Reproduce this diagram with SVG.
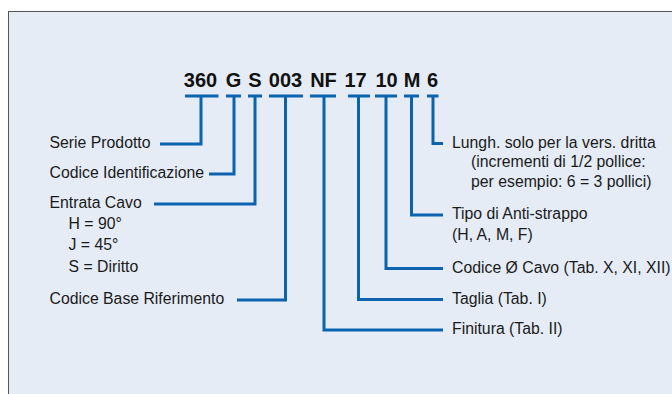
<svg xmlns="http://www.w3.org/2000/svg" width="672" height="394" viewBox="0 0 672 394">
<style>
.lbl{font-family:"Liberation Sans",Arial,Helvetica,sans-serif;font-size:15.8px;fill:#1a1a1a}
.code{font-family:"Liberation Sans",Arial,Helvetica,sans-serif;font-size:20px;font-weight:bold;fill:#111;text-anchor:middle}
.ln{fill:none;stroke:#0B62AF;stroke-width:3}
</style>
<rect x="0" y="0" width="672" height="394" fill="#ffffff"/>
<rect x="8.5" y="11.5" width="680" height="400" fill="#E5ECF6" stroke="#555" stroke-width="1"/>
<g id="code">
<text class="code" x="200.5" y="87">360</text>
<text class="code" x="233.5" y="87">G</text>
<text class="code" x="255" y="87">S</text>
<text class="code" x="285.5" y="87">003</text>
<text class="code" x="323.5" y="87">NF</text>
<text class="code" x="355.5" y="87">17</text>
<text class="code" x="386.5" y="87">10</text>
<text class="code" x="412" y="87">M</text>
<text class="code" x="432.5" y="87">6</text>
</g>
<g id="connectors">
<path class="ln" d="M185,96 H218.5 M201,96 V144 H160"/>
<path class="ln" d="M226,96 H241 M234,96 V174 H209"/>
<path class="ln" d="M248,96 H262 M255,96 V204 H154"/>
<path class="ln" d="M269,96 H303 M285.5,96 V300 H237"/>
<path class="ln" d="M310,96 H336 M324,96 V330 H443"/>
<path class="ln" d="M348,96 H370 M358.5,96 V299.5 H443"/>
<path class="ln" d="M375,96 H397 M386,96 V268.5 H443"/>
<path class="ln" d="M404,96 H419 M411.5,96 V215 H443"/>
<path class="ln" d="M427,96 H438.5 M433,96 V143.5 H443"/>
</g>
<g id="serie"><text class="lbl" x="49.5" y="147.5">Serie Prodotto</text></g>
<g id="identificazione"><text class="lbl" x="49.5" y="177.5">Codice Identificazione</text></g>
<g id="entrata">
<text class="lbl" x="49.5" y="207.5">Entrata Cavo</text>
<text class="lbl" x="68.5" y="228.5">H = 90°</text>
<text class="lbl" x="68.5" y="250">J = 45°</text>
<text class="lbl" x="68.5" y="271.5">S = Diritto</text>
</g>
<g id="base"><text class="lbl" x="49.5" y="304">Codice Base Riferimento</text></g>
<g id="lunghezza">
<text class="lbl" x="452" y="147.5">Lungh. solo per la vers. dritta</text>
<text class="lbl" x="471" y="167">(incrementi di 1/2 pollice:</text>
<text class="lbl" x="471" y="187">per esempio: 6 = 3 pollici)</text>
</g>
<g id="antistrappo">
<text class="lbl" x="452" y="219">Tipo di Anti-strappo</text>
<text class="lbl" x="452" y="240">(H, A, M, F)</text>
</g>
<g id="cavo"><text class="lbl" x="452" y="272.5">Codice Ø Cavo (Tab. X, XI, XII)</text></g>
<g id="taglia"><text class="lbl" x="452" y="303.5">Taglia (Tab. I)</text></g>
<g id="finitura"><text class="lbl" x="452" y="334">Finitura (Tab. II)</text></g>
</svg>
